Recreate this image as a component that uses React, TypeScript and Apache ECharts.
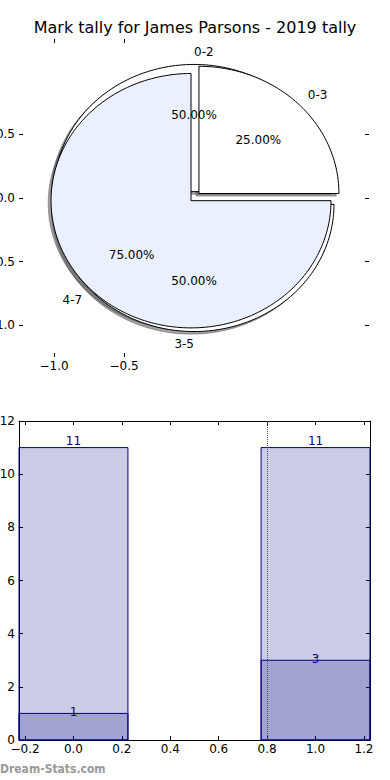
import React, { useEffect, useRef } from "react";
import * as echarts from "echarts";

const TITLE = "Mark tally for James Parsons - 2019 tally";
const WATERMARK = "Dream-Stats.com";

// Pie A (drawn on top)
const pieALabels = ["0-3", "4-7"];
const pieAValues = [1, 3];
const pieAExplode = [0.05, 0.03];
const pieAColors = ["#ffffff", "#eaf0fd"];

// Pie B (drawn underneath)
const pieBLabels = ["0-2", "3-5"];
const pieBValues = [2, 2];
const pieBExplode = [0.05, 0.05];
const pieBColors = ["#ffffff", "#ffffff"];

const pieXTicks = [-1, -0.5];
const pieYTicks = [-1, -0.5, 0, 0.5];

// Bars
const barPositions = [0, 1];
const barTotals = [11, 11];
const barParts = [1, 3];
const barXTicks = [-0.2, 0, 0.2, 0.4, 0.6, 0.8, 1.0, 1.2];
const barYTicks = [0, 2, 4, 6, 8, 10, 12];
const refLineX = [0.8];

const BAR_WIDTH = 0.45;
const FONT = "DejaVu Sans";
const NAVY = "#000080";

type Wedge = {
  t1: number;
  t2: number;
  explode: number;
  color: string;
  label: string;
  pct: string;
};

function buildWedges(values: number[], labels: string[], explode: number[], colors: string[]): Wedge[] {
  const total = values.reduce((a, b) => a + b, 0);
  let acc = 0;
  return values.map((v, i) => {
    const t1 = (acc / total) * 360;
    acc += v;
    const t2 = (acc / total) * 360;
    return {
      t1,
      t2,
      explode: explode[i],
      color: colors[i],
      label: labels[i],
      pct: ((v / total) * 100).toFixed(2) + "%",
    };
  });
}

const wedges: Wedge[] = [
  ...buildWedges(pieBValues, pieBLabels, pieBExplode, pieBColors),
  ...buildWedges(pieAValues, pieALabels, pieAExplode, pieAColors),
];

function fmtNum(v: number) {
  const s = Math.abs(v).toFixed(1);
  return v < -1e-9 ? "\u2212" + s : s;
}

function wedgePoints(w: Wedge, api: any, sx: number, sy: number) {
  const mid = (((w.t1 + w.t2) / 2) * Math.PI) / 180;
  const cx = w.explode * Math.cos(mid) + sx;
  const cy = w.explode * Math.sin(mid) + sy;
  const pts: number[][] = [api.coord([cx, cy])];
  const n = Math.max(12, Math.ceil((w.t2 - w.t1) / 1.5));
  for (let k = 0; k <= n; k++) {
    const th = ((w.t1 + ((w.t2 - w.t1) * k) / n) * Math.PI) / 180;
    pts.push(api.coord([cx + Math.cos(th), cy + Math.sin(th)]));
  }
  return pts;
}

export default function App() {
  const ref = useRef<HTMLDivElement>(null);

  useEffect(() => {
    document.body.style.margin = "0";
    if (!ref.current) return;
    const chart = echarts.init(ref.current, undefined, { renderer: "svg" });

    const tickStyle = { color: "#000", width: 1 };
    const hiddenLine = { show: true, onZero: false, lineStyle: { color: "#000", opacity: 0 } };
    const labelStyle = { color: "#000", fontSize: 12, fontFamily: FONT };

    const option: any = {
      animation: false,
      backgroundColor: "#ffffff",
      title: {
        text: TITLE,
        left: "center",
        top: 19,
        padding: 0,
        textStyle: { fontSize: 16, fontWeight: "normal", color: "#000", fontFamily: FONT },
      },
      graphic: [
        {
          type: "text",
          left: 0,
          top: 763,
          style: {
            text: WATERMARK,
            fill: "#999999",
            fontSize: 12,
            fontWeight: "bold",
            fontFamily: "DejaVu Sans Condensed",
          },
        },
      ],
      grid: [
        { left: 19, top: 39, width: 350, height: 318, outerBoundsMode: "none", containLabel: false },
        { left: 19, top: 421, width: 351, height: 319, outerBoundsMode: "none", containLabel: false },
      ],
      xAxis: [
        {
          type: "value",
          gridIndex: 0,
          position: "bottom",
          min: -1.25,
          max: 1.25,
          axisLine: hiddenLine,
          splitLine: { show: false },
          axisTick: { show: true, inside: true, length: 4, lineStyle: tickStyle, customValues: pieXTicks },
          axisLabel: { ...labelStyle, margin: 3, customValues: pieXTicks, formatter: fmtNum },
        },
        {
          type: "value",
          gridIndex: 0,
          position: "top",
          min: -1.25,
          max: 1.25,
          axisLine: hiddenLine,
          splitLine: { show: false },
          axisTick: { show: true, inside: true, length: 4, lineStyle: tickStyle, customValues: pieXTicks },
          axisLabel: { show: false },
        },
        {
          type: "value",
          gridIndex: 1,
          position: "bottom",
          min: -0.225,
          max: 1.225,
          axisLine: { show: true, onZero: false, lineStyle: tickStyle },
          splitLine: { show: false },
          axisTick: { show: true, inside: true, length: 4, lineStyle: tickStyle, customValues: barXTicks },
          axisLabel: { ...labelStyle, margin: 3, customValues: barXTicks, formatter: fmtNum },
        },
        {
          type: "value",
          gridIndex: 1,
          position: "top",
          min: -0.225,
          max: 1.225,
          axisLine: { show: true, onZero: false, lineStyle: tickStyle },
          splitLine: { show: false },
          axisTick: { show: true, inside: true, length: 4, lineStyle: tickStyle, customValues: barXTicks },
          axisLabel: { show: false },
        },
      ],
      yAxis: [
        {
          type: "value",
          gridIndex: 0,
          position: "left",
          min: -1.25,
          max: 1.25,
          axisLine: hiddenLine,
          splitLine: { show: false },
          axisTick: { show: true, inside: true, length: 4, lineStyle: tickStyle, customValues: pieYTicks },
          axisLabel: { ...labelStyle, margin: 4, customValues: pieYTicks, formatter: fmtNum },
        },
        {
          type: "value",
          gridIndex: 0,
          position: "right",
          min: -1.25,
          max: 1.25,
          axisLine: hiddenLine,
          splitLine: { show: false },
          axisTick: { show: true, inside: true, length: 4, lineStyle: tickStyle, customValues: pieYTicks },
          axisLabel: { show: false },
        },
        {
          type: "value",
          gridIndex: 1,
          position: "left",
          min: 0,
          max: 12,
          interval: 2,
          axisLine: { show: true, onZero: false, lineStyle: tickStyle },
          splitLine: { show: false },
          axisTick: { show: true, inside: true, length: 4, lineStyle: tickStyle, customValues: barYTicks },
          axisLabel: { ...labelStyle, margin: 4, customValues: barYTicks },
        },
        {
          type: "value",
          gridIndex: 1,
          position: "right",
          min: 0,
          max: 12,
          interval: 2,
          axisLine: { show: true, onZero: false, lineStyle: tickStyle },
          splitLine: { show: false },
          axisTick: { show: true, inside: true, length: 4, lineStyle: tickStyle, customValues: barYTicks },
          axisLabel: { show: false },
        },
      ],
      series: [
        {
          type: "custom",
          name: "shadows",
          xAxisIndex: 0,
          yAxisIndex: 0,
          z: 1,
          silent: true,
          data: wedges.map((_, i) => [i]),
          renderItem: (params: any, api: any) => {
            const w = wedges[params.dataIndex];
            return {
              type: "polygon",
              shape: { points: wedgePoints(w, api, -0.02, -0.02) },
              style: { fill: "rgba(77,77,77,0.5)", stroke: "rgba(77,77,77,0.5)", lineWidth: 1 },
            };
          },
        },
        {
          type: "custom",
          name: "wedges",
          xAxisIndex: 0,
          yAxisIndex: 0,
          z: 2,
          silent: true,
          data: wedges.map((_, i) => [i]),
          renderItem: (params: any, api: any) => {
            const w = wedges[params.dataIndex];
            const mid = (((w.t1 + w.t2) / 2) * Math.PI) / 180;
            const cx = w.explode * Math.cos(mid);
            const cy = w.explode * Math.sin(mid);
            const lx = cx + 1.1 * Math.cos(mid);
            const ly = cy + 1.1 * Math.sin(mid);
            const lp = api.coord([lx, ly]);
            const pp = api.coord([cx + 0.6 * Math.cos(mid), cy + 0.6 * Math.sin(mid)]);
            return {
              type: "group",
              children: [
                {
                  type: "polygon",
                  shape: { points: wedgePoints(w, api, 0, 0) },
                  style: { fill: w.color, stroke: "#000", lineWidth: 1 },
                },
                {
                  type: "text",
                  x: lp[0],
                  y: lp[1],
                  z2: 100,
                  style: {
                    text: w.label,
                    fill: "#000",
                    fontSize: 12,
                    fontFamily: FONT,
                    align: lx > 0 ? "left" : "right",
                    verticalAlign: "middle",
                  },
                },
                {
                  type: "text",
                  x: pp[0],
                  y: pp[1],
                  z2: 100,
                  style: {
                    text: w.pct,
                    fill: "#000",
                    fontSize: 12,
                    fontFamily: FONT,
                    align: "center",
                    verticalAlign: "middle",
                  },
                },
              ],
            };
          },
        },
        {
          type: "custom",
          name: "bars",
          xAxisIndex: 2,
          yAxisIndex: 2,
          z: 2,
          silent: true,
          data: barPositions.map((x, i) => [x, barTotals[i], barParts[i]]),
          renderItem: (params: any, api: any) => {
            const x = api.value(0);
            const total = api.value(1);
            const part = api.value(2);
            const half = BAR_WIDTH / 2;
            const tl = api.coord([x - half, total]);
            const br = api.coord([x + half, 0]);
            const pl = api.coord([x - half, part]);
            const mt = api.coord([x, total]);
            const mp = api.coord([x, part]);
            return {
              type: "group",
              children: [
                {
                  type: "rect",
                  shape: { x: tl[0], y: tl[1], width: br[0] - tl[0], height: br[1] - tl[1] },
                  style: { fill: "rgba(0,0,128,0.2)", stroke: NAVY, lineWidth: 1 },
                },
                {
                  type: "rect",
                  shape: { x: pl[0], y: pl[1], width: br[0] - pl[0], height: br[1] - pl[1] },
                  style: { fill: "rgba(0,0,128,0.2)", stroke: NAVY, lineWidth: 1 },
                },
                {
                  type: "text",
                  x: mt[0],
                  y: mt[1] - 1,
                  z2: 100,
                  style: {
                    text: String(total),
                    fill: NAVY,
                    fontSize: 12,
                    fontFamily: FONT,
                    align: "center",
                    verticalAlign: "bottom",
                  },
                },
                {
                  type: "text",
                  x: mp[0],
                  y: mp[1] - 1,
                  z2: 100,
                  style: {
                    text: String(part),
                    fill: NAVY,
                    fontSize: 12,
                    fontFamily: FONT,
                    align: "center",
                    verticalAlign: "middle",
                  },
                },
              ],
            };
          },
          markLine: {
            silent: true,
            symbol: ["none", "none"],
            label: { show: false },
            lineStyle: { type: "dotted", color: "#555", width: 1 },
            data: refLineX.map((v) => ({ xAxis: v })),
          },
        },
      ],
    };

    chart.setOption(option);
    return () => chart.dispose();
  }, []);

  return <div ref={ref} style={{ width: 390, height: 780 }} />;
}
